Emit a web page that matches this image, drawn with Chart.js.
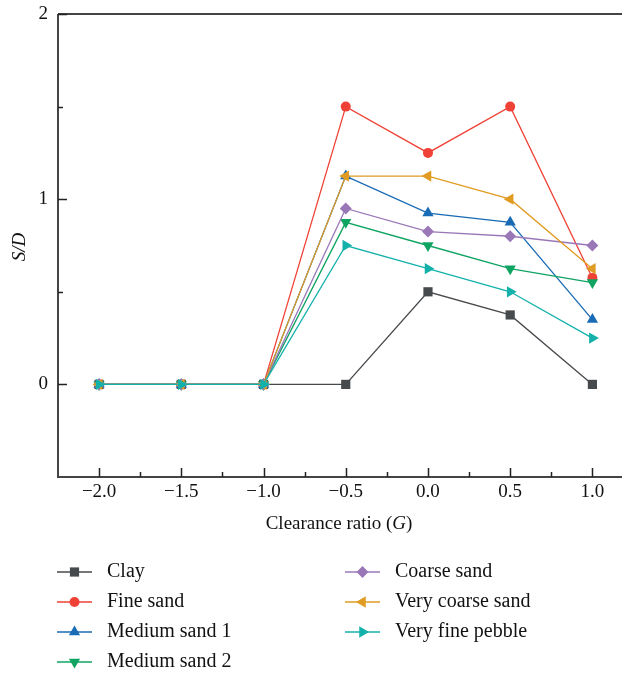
<!DOCTYPE html>
<html>
<head>
<meta charset="utf-8">
<script src="https://cdn.jsdelivr.net/npm/chart.js@4/dist/chart.umd.min.js"></script>
<style>
  body { margin: 0; background: #fff; overflow: hidden; }
  #wrap { width: 622px; height: 674px; position: relative; }
</style>
</head>
<body>
<div id="wrap"><canvas id="myChart"></canvas></div>
<script>
// Clearance ratio G (x positions)
const clearance = [-2.0, -1.5, -1.0, -0.5, 0.0, 0.5, 1.0];

// S/D for each soil
const clay = [0, 0, 0, 0, 0.5, 0.375, 0];
const fineSand = [0, 0, 0, 1.5, 1.25, 1.5, 0.575];
const mediumSand1 = [0, 0, 0, 1.125, 0.925, 0.875, 0.35];
const mediumSand2 = [0, 0, 0, 0.875, 0.75, 0.625, 0.55];
const coarseSand = [0, 0, 0, 0.95, 0.825, 0.8, 0.75];
const veryCoarseSand = [0, 0, 0, 1.125, 1.125, 1.0, 0.625];
const veryFinePebble = [0, 0, 0, 0.75, 0.625, 0.5, 0.25];

// tick labels
const xTicks = [-2.0, -1.5, -1.0, -0.5, 0.0, 0.5, 1.0];
const xMinorTicks = [-1.75, -1.25, -0.75, -0.25, 0.25, 0.75];
const yTicks = [0, 1, 2];
const yMinorTicks = [0.5, 1.5];

const serif = "'Liberation Serif', 'DejaVu Serif', serif";
const axisColor = '#444';

function makeSet(label, values, color, style, rotation, radius) {
    return {
        label: label,
        data: values.map((v, i) => ({ x: clearance[i], y: v })),
        borderColor: color,
        backgroundColor: color,
        borderWidth: 1.3,
        pointStyle: style,
        rotation: rotation,
        pointRadius: radius,
        pointHoverRadius: radius,
        pointBorderWidth: 0,
        tension: 0
    };
}

const datasets = [
    makeSet('Clay', clay, '#474a4d', 'rect', 0, 6.5),
    makeSet('Fine sand', fineSand, '#ef4136', 'circle', 0, 5),
    makeSet('Medium sand 1', mediumSand1, '#1a6bb5', 'triangle', 0, 6.5),
    makeSet('Medium sand 2', mediumSand2, '#10a463', 'triangle', 180, 6.5),
    makeSet('Coarse sand', coarseSand, '#9a78b8', 'rectRot', 0, 6),
    makeSet('Very coarse sand', veryCoarseSand, '#e09b22', 'triangle', 270, 6.5),
    makeSet('Very fine pebble', veryFinePebble, '#14b1ab', 'triangle', 90, 6.5)
];
// later series on top
datasets.forEach((d, i) => { d.order = datasets.length - 1 - i; });

function fmtX(v) {
    return (v < 0 ? '\u2212' : '') + Math.abs(v).toFixed(1);
}

// Axes frame, inward ticks, labels, titles and two-column legend
const framePlugin = {
    id: 'frame',
    beforeDatasetsDraw(chart) {
        const ctx = chart.ctx;
        const a = chart.chartArea;
        const xs = chart.scales.x;
        const ys = chart.scales.y;
        ctx.save();
        ctx.strokeStyle = axisColor;
        ctx.lineWidth = 2;
        ctx.beginPath();
        ctx.moveTo(a.left, a.top);
        ctx.lineTo(a.left, a.bottom);
        ctx.lineTo(chart.width, a.bottom);
        ctx.moveTo(a.left, a.top);
        ctx.lineTo(chart.width, a.top);
        ctx.stroke();

        ctx.lineWidth = 1.5;
        ctx.strokeStyle = '#222';
        ctx.beginPath();
        xTicks.forEach(v => {
            const px = Math.round(xs.getPixelForValue(v)) + 0.5;
            ctx.moveTo(px, a.bottom); ctx.lineTo(px, a.bottom - 9);
        });
        xMinorTicks.forEach(v => {
            const px = Math.round(xs.getPixelForValue(v)) + 0.5;
            ctx.moveTo(px, a.bottom); ctx.lineTo(px, a.bottom - 5);
        });
        yTicks.forEach(v => {
            const py = Math.round(ys.getPixelForValue(v)) + 0.5;
            ctx.moveTo(a.left, py); ctx.lineTo(a.left + 9, py);
        });
        yMinorTicks.forEach(v => {
            const py = Math.round(ys.getPixelForValue(v)) + 0.5;
            ctx.moveTo(a.left, py); ctx.lineTo(a.left + 5, py);
        });
        ctx.stroke();

        // tick labels
        ctx.fillStyle = '#111';
        ctx.font = '19px ' + serif;
        ctx.textBaseline = 'middle';
        ctx.textAlign = 'center';
        xTicks.forEach(v => ctx.fillText(fmtX(v), xs.getPixelForValue(v), a.bottom + 15));
        ctx.textAlign = 'right';
        yTicks.forEach(v => ctx.fillText(String(v), a.left - 10, ys.getPixelForValue(v)));
        ctx.restore();
    },
    afterDraw(chart) {
        const ctx = chart.ctx;
        const a = chart.chartArea;
        ctx.save();
        ctx.fillStyle = '#111';
        ctx.textBaseline = 'middle';

        // x title with italic G
        const parts = [['Clearance ratio (', ''], ['G', 'italic '], [')', '']];
        let total = 0;
        parts.forEach(p => { ctx.font = p[1] + '19px ' + serif; total += ctx.measureText(p[0]).width; });
        let tx = 339 - total / 2;
        ctx.textAlign = 'left';
        parts.forEach(p => {
            ctx.font = p[1] + '19px ' + serif;
            ctx.fillText(p[0], tx, a.bottom + 47);
            tx += ctx.measureText(p[0]).width;
        });

        // y title
        ctx.save();
        ctx.translate(20, 247);
        ctx.rotate(-Math.PI / 2);
        ctx.textAlign = 'center';
        ctx.font = 'italic 19px ' + serif;
        ctx.fillText('S/D', 0, 0);
        ctx.restore();

        // legend, column by column
        const cols = [[0, 1, 2, 3], [4, 5, 6]];
        const colX = [57, 345];
        ctx.font = '20px ' + serif;
        cols.forEach((col, c) => {
            col.forEach((di, r) => {
                const ds = chart.data.datasets[di];
                const y = 572 + r * 30;
                const x0 = colX[c];
                ctx.strokeStyle = ds.borderColor;
                ctx.lineWidth = 1.5;
                ctx.beginPath();
                ctx.moveTo(x0, y);
                ctx.lineTo(x0 + 35, y);
                ctx.stroke();
                ctx.fillStyle = ds.backgroundColor;
                Chart.helpers.drawPoint(ctx, {
                    pointStyle: ds.pointStyle,
                    rotation: ds.rotation,
                    radius: ds.pointRadius,
                    borderWidth: 0
                }, x0 + 17.5, y);
                ctx.fillStyle = '#111';
                ctx.textAlign = 'left';
                ctx.fillText(ds.label, x0 + 50, y);
            });
        });
        ctx.restore();
    }
};

const ctx = document.getElementById('myChart').getContext('2d');
const myChart = new Chart(ctx, {
    type: 'line',
    data: { datasets: datasets },
    plugins: [framePlugin],
    options: {
        responsive: true,
        maintainAspectRatio: false,
        animation: false,
        layout: { autoPadding: false, padding: { left: 0, right: 0, top: 14, bottom: 127 } },
        plugins: {
            legend: { display: false },
            tooltip: { enabled: false }
        },
        scales: {
            x: {
                type: 'linear',
                min: -2.25,
                max: 1.18,
                grid: { display: false, drawTicks: false },
                border: { display: false },
                afterBuildTicks: scale => { scale.ticks = xTicks.map(v => ({ value: v })); },
                afterFit: scale => { scale.height = 70; },
                ticks: { display: false }
            },
            y: {
                type: 'linear',
                min: -0.5,
                max: 2,
                grid: { display: false, drawTicks: false },
                border: { display: false },
                afterBuildTicks: scale => { scale.ticks = yTicks.map(v => ({ value: v })); },
                afterFit: scale => { scale.width = 58; },
                ticks: { display: false }
            }
        }
    }
});
</script>
</body>
</html>
